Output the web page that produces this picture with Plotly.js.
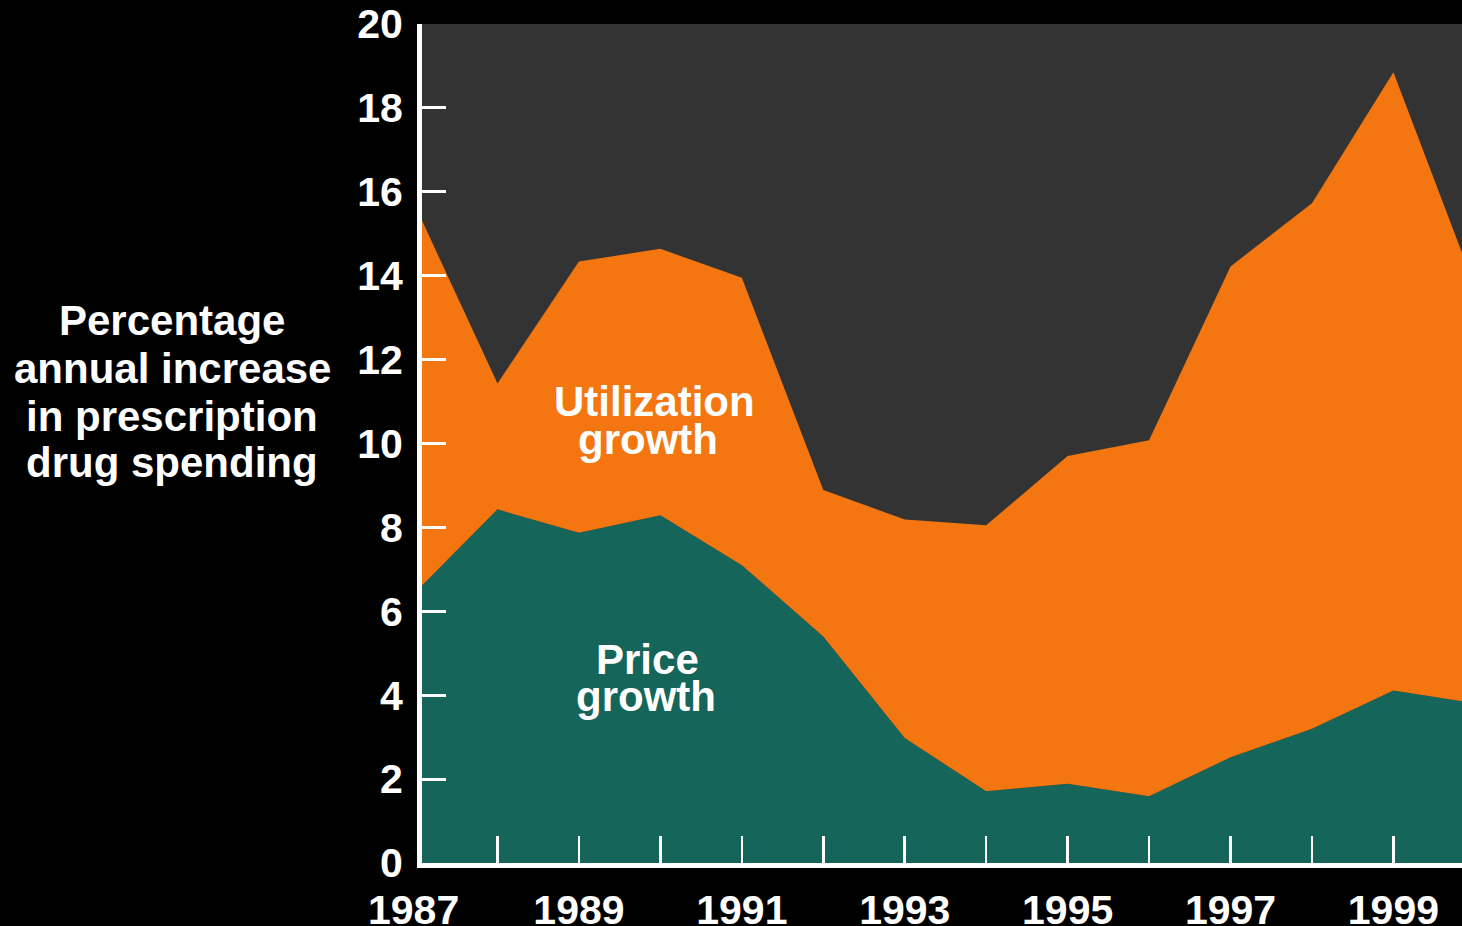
<!DOCTYPE html>
<html>
<head>
<meta charset="utf-8">
<script src="https://cdn.plot.ly/plotly-3.0.1.min.js"></script>
<style>
  html, body { margin: 0; padding: 0; background: #000; }
  #chart { width: 1462px; height: 926px; }
</style>
</head>
<body>
<div id="chart"></div>
<script>
// ---- data ----
const years = [1987, 1988, 1989, 1990, 1991, 1992, 1993, 1994, 1995, 1996, 1997, 1998, 1999, 2000];
const priceGrowth = [6.47, 8.43, 7.87, 8.29, 7.10, 5.40, 2.98, 1.71, 1.89, 1.59, 2.52, 3.20, 4.11, 3.81];
const utilizationGrowth = [9.15, 3.00, 6.47, 6.35, 6.85, 3.49, 5.21, 6.34, 7.81, 8.49, 11.70, 12.53, 14.74, 9.93];
const tickYears = [1987, 1988, 1989, 1990, 1991, 1992, 1993, 1994, 1995, 1996, 1997, 1998, 1999];
const tickYearLabels = ["1987", "", "1989", "", "1991", "", "1993", "", "1995", "", "1997", "", "1999"];
const yTicks = [0, 2, 4, 6, 8, 10, 12, 14, 16, 18, 20];
const yAxisTitleLines = ["Percentage", "annual increase", "in prescription", "drug spending"];

// ---- layout geometry ----
const W = 1462, H = 926;
const M = { l: 422, r: 0, t: 24, b: H - 863 };
const plotW = W - M.l - M.r, plotH = H - M.t - M.b;
const pxX = px => (px - M.l) / plotW;
const pxY = py => (H - M.b - py) / plotH;

const FONT = "Liberation Sans, Arial, Helvetica, sans-serif";
const ORANGE = "#F37611";
const TEAL = "#15655B";

const traces = [
  {
    x: years, y: priceGrowth, name: "Price growth",
    type: "scatter", mode: "lines", stackgroup: "one",
    line: { width: 0, color: TEAL }, fillcolor: TEAL, hoverinfo: "skip"
  },
  {
    x: years, y: utilizationGrowth, name: "Utilization growth",
    type: "scatter", mode: "lines", stackgroup: "one",
    line: { width: 0, color: ORANGE }, fillcolor: ORANGE, hoverinfo: "skip"
  }
];

const labelFont = { family: FONT, size: 42, color: "#ffffff", weight: "bold" };
const tickFont = { family: FONT, size: 41, color: "#ffffff", weight: "bold" };

const annotations = [];
const titleCentersY = [321, 368, 416, 463];
yAxisTitleLines.forEach((t, i) => {
  annotations.push({
    text: "<b>" + t + "</b>", xref: "paper", yref: "paper",
    x: pxX(172), y: pxY(titleCentersY[i]),
    xanchor: "center", yanchor: "middle", showarrow: false, font: labelFont
  });
});
const inPlot = [
  ["Utilization", 654, 401],
  ["growth", 648, 440],
  ["Price", 647, 659],
  ["growth", 646, 697]
];
inPlot.forEach(([t, px, py]) => {
  annotations.push({
    text: "<b>" + t + "</b>", xref: "paper", yref: "paper",
    x: pxX(px), y: pxY(py),
    xanchor: "center", yanchor: "middle", showarrow: false, font: labelFont
  });
});
// first year label sits at the axis corner (outside the visible x range)
annotations.push({
  text: "<b>" + tickYearLabels[0] + "</b>", xref: "paper", yref: "paper",
  x: pxX(413.5), y: pxY(910),
  xanchor: "center", yanchor: "middle", showarrow: false, font: tickFont
});

const layout = {
  width: W, height: H,
  margin: M,
  paper_bgcolor: "#000000",
  plot_bgcolor: "#333333",
  showlegend: false,
  font: { family: FONT, color: "#ffffff" },
  xaxis: {
    range: [1987.073, 1999.842],
    tickmode: "array", tickvals: tickYears, ticktext: tickYearLabels,
    ticks: "inside", ticklen: 27, tickwidth: 2.5, tickcolor: "#ffffff",
    showline: true, linecolor: "#ffffff", linewidth: 5,
    showgrid: false, zeroline: false,
    tickfont: tickFont,
    ticklabelstandoff: 7,
    fixedrange: true
  },
  yaxis: {
    range: [0, 20],
    tickmode: "array", tickvals: yTicks, ticktext: yTicks.map(String),
    ticks: "inside", ticklen: 24, tickwidth: 3, tickcolor: "#ffffff",
    showline: true, linecolor: "#ffffff", linewidth: 5,
    showgrid: false, zeroline: false,
    tickfont: tickFont,
    ticklabelstandoff: 6,
    fixedrange: true
  },
  annotations: annotations
};

Plotly.newPlot("chart", traces, layout, { displayModeBar: false, staticPlot: true });
</script>
</body>
</html>
